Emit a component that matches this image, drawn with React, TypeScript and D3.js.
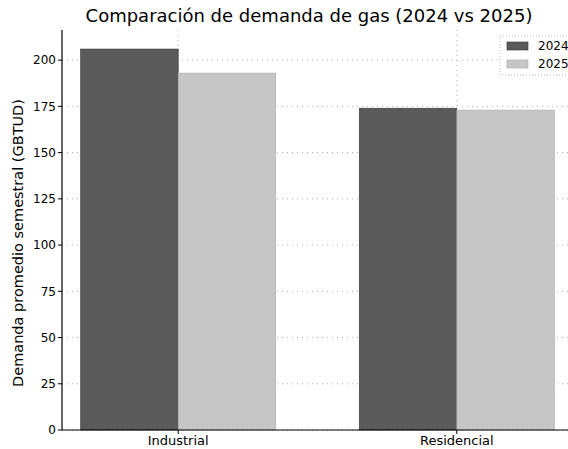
import React from "react";
import * as d3 from "d3";

const categories = ["Industrial", "Residencial"];
const series = ["2024", "2025"];
const values2024 = [206, 174];
const values2025 = [193, 173];
const yTicks = [0, 25, 50, 75, 100, 125, 150, 175, 200];
const title = "Comparación de demanda de gas (2024 vs 2025)";
const yLabel = "Demanda promedio semestral (GBTUD)";

const colors = ["#5a5a5a", "#c6c6c6"];

export default function App() {
  const W = 568, H = 449;
  const left = 62, right = 578, top = 30, bottom = 430;
  const barW = 0.35;
  const x = d3.scaleLinear().domain([-0.435, 1.435]).range([left - 5, right]);
  const y = d3.scaleLinear().domain([0, 216.3]).range([bottom, top]);
  const font = "DejaVu Sans, sans-serif";
  const data = [values2024, values2025];
  return (
    <svg width={W} height={H} style={{ position: "absolute", left: 0, top: 0, background: "#fff" }}>
      {/* grid */}
      {yTicks.map((t) => (
        <line key={"gy" + t} x1={left} x2={W} y1={y(t)} y2={y(t)} stroke="#999" strokeWidth={0.8} strokeDasharray="1,4" />
      ))}
      {categories.map((c, i) => (
        <line key={"gx" + c} x1={x(i)} x2={x(i)} y1={top} y2={bottom} stroke="#999" strokeWidth={0.8} strokeDasharray="1,4" />
      ))}
      {/* bars */}
      {series.map((s, si) =>
        categories.map((c, ci) => {
          const x0 = x(ci - barW / 2 + si * barW - barW / 2);
          const x1 = x(ci - barW / 2 + si * barW + barW / 2);
          return (
            <rect key={s + c} x={x0} y={y(data[si][ci])} width={x1 - x0} height={bottom - y(data[si][ci])}
              fill={colors[si]} stroke={si === 0 ? "#333" : "#aaa"} strokeWidth={0.6} />
          );
        })
      )}
      {/* axes */}
      <line x1={left} x2={left} y1={top} y2={bottom} stroke="#000" strokeWidth={1.2} />
      <line x1={left} x2={W} y1={bottom} y2={bottom} stroke="#000" strokeWidth={1.2} />
      {yTicks.map((t) => (
        <g key={"yt" + t}>
          <line x1={left - 4} x2={left} y1={y(t)} y2={y(t)} stroke="#000" />
          <text x={left - 6} y={y(t)} dy="0.35em" textAnchor="end" fontSize={12} fontFamily={font}>{t}</text>
        </g>
      ))}
      {categories.map((c, i) => (
        <g key={"xt" + c}>
          <line x1={x(i)} x2={x(i)} y1={bottom} y2={bottom + 4} stroke="#000" />
          <text x={x(i)} y={bottom + 15} textAnchor="middle" fontSize={13} fontFamily={font}>{c}</text>
        </g>
      ))}
      <text x={309} y={22} textAnchor="middle" fontSize={18} fontFamily={font}>{title}</text>
      <text transform={`translate(23,${243}) rotate(-90)`} textAnchor="middle" fontSize={14.5} fontFamily={font}>{yLabel}</text>
      {/* legend */}
      <rect x={500} y={36} width={75} height={39} fill="#fff" stroke="#bbb" strokeDasharray="1,2" />
      {series.map((s, i) => (
        <g key={"lg" + s}>
          <rect x={507} y={42 + i * 18} width={21} height={8} fill={colors[i]} stroke={i === 0 ? "#333" : "#aaa"} strokeWidth={0.6} />
          <text x={538} y={46 + i * 18} dy="0.35em" fontSize={12} fontFamily={font}>{s}</text>
        </g>
      ))}
    </svg>
  );
}
